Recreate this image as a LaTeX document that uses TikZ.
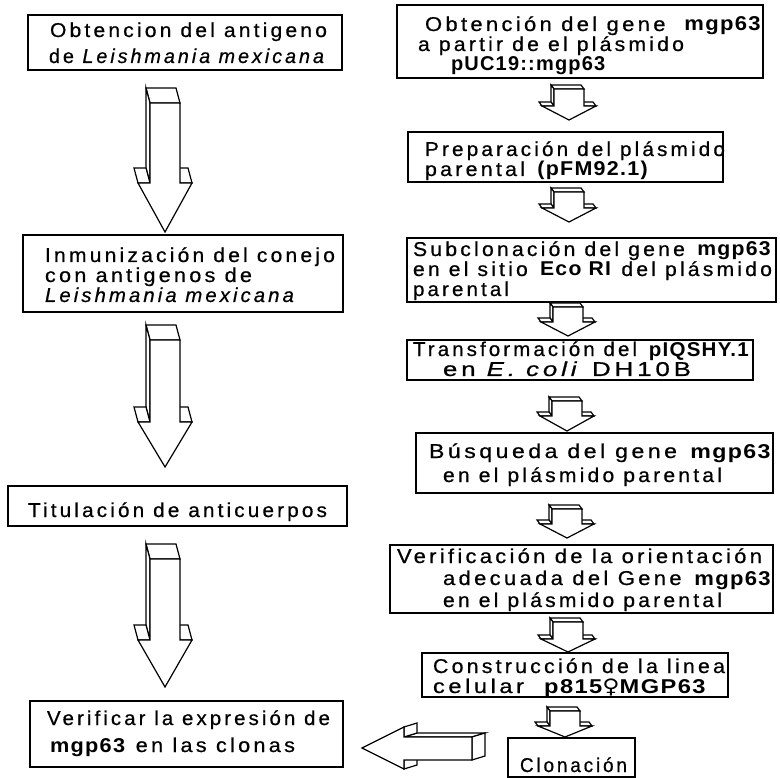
\documentclass[tikz,border=0pt]{standalone}
\usepackage{graphicx}
\usepackage{fontspec}
\setmainfont{Liberation Sans}[LetterSpace=15,
  UprightFeatures={FakeBold=0.6},
  ItalicFeatures={FakeBold=0.6},
  BoldFeatures={LetterSpace=6}]
\newfontfamily\symfont{DejaVu Sans Bold}
\newcommand\fs{\fontsize{20}{20}\selectfont}
\newsavebox\fitbox
% set text #2 scaled horizontally to width #1 (pt)
\newcommand\fit[2]{\sbox\fitbox{#2}\pgfmathsetmacro\fitsx{(#1+2)/\the\wd\fitbox}\scalebox{\fitsx}[1]{\usebox\fitbox}}
\tikzset{
  box/.style={draw, line width=1.4pt, inner sep=0pt, outer sep=0pt, anchor=north west},
  txt/.style={inner sep=0pt, outer sep=0pt, anchor=base west, font=\fs},
  blk/.style={draw, line width=1.2pt, fill=white, line join=miter},
}
% box: name, x1, y1, x2, y2
\newcommand\bx[5]{\node[box, minimum width={#4-#2}, minimum height={#5-#3}] (#1) at (#2,#3) {};}
% 3D block arrow pointing down: cx, front top, shoulder, tip, half shaft, half head, depth left, depth up
\newcommand\darr[8]{%
  \filldraw[blk] ({#1-#5},#2) -- ({#1-#5-#7},{#2-#8}) -- ({#1+#5-#7},{#2-#8}) -- ({#1+#5},#2) -- cycle;
  \filldraw[blk] ({#1-#5},#2) -- ({#1-#5-#7},{#2-#8}) -- ({#1-#5-#7},{#3-#8}) -- ({#1-#5},#3) -- cycle;
  \filldraw[blk] ({#1-#6},#3) -- ({#1-#6-#7},{#3-#8}) -- ({#1-#5-#7},{#3-#8}) -- ({#1-#5},#3) -- cycle;
  \filldraw[blk] ({#1+#5},#3) -- ({#1+#5-#7},{#3-#8}) -- ({#1+#6-#7},{#3-#8}) -- ({#1+#6},#3) -- cycle;
  \filldraw[blk] ({#1-#5},#2) -- ({#1+#5},#2) -- ({#1+#5},#3) -- ({#1+#6},#3) -- (#1,#4)
     -- ({#1-#6},#3) -- ({#1-#5},#3) -- cycle;
}
\begin{document}
\begin{tikzpicture}[x=1pt,y=-1pt]
\useasboundingbox[fill=white] (0,0) rectangle (780,778);

% ---------- left column ----------
\bx{l1}{28}{15}{342}{70}
\node[txt] (l1a) at (50,37) {\fit{275}{Obtencion del antigeno}};
\node[txt] (l1b) at (49,63) {\fit{276}{de \textit{Leishmania mexicana}}};

\bx{l2}{23}{235}{343}{312}
\node[txt] (l2a) at (45,262) {\fit{288}{Inmunización del conejo}};
\node[txt] (l2b) at (45,282) {\fit{205}{con antigenos de}};
\node[txt] (l2c) at (45,302) {\fit{250}{\textit{Leishmania mexicana}}};

\bx{l3}{8}{486}{347}{526}
\node[txt] (l3a) at (28,517) {\fit{297}{Titulación de anticuerpos}};

\bx{l4}{30}{701}{343}{767}
\node[txt] (l4a) at (47,725) {\fit{281}{Verificar la expresión de}};
\node[txt] (l4b) at (50,752) {\fit{243}{\textbf{mgp63} en las clonas}};

\darr{165}{103}{183}{232}{15}{27}{4}{15}
\darr{165}{340}{422}{467}{15}{27}{4}{15}
\darr{165}{559}{640}{687}{15}{27}{4}{15}

% ---------- right column ----------
\bx{r1}{397}{5}{763}{78}
\node[txt] (r1a) at (425,31) {\fit{335}{Obtención del gene \ \textbf{mgp63}}};
\node[txt] (r1b) at (418,51) {\fit{264}{a partir de el plásmido}};
\node[txt] (r1c) at (451,71) {\textbf{pUC19::mgp63}};

\bx{r2}{408}{132}{723}{182}
\node[txt] (r2a) at (425,156) {\fit{298}{Preparación del plásmido}};
\node[txt] (r2b) at (425,176) {\fit{222}{parental \textbf{(pFM92.1)}}};

\bx{r3}{407}{238}{776}{302}
\node[txt] (r3a) at (413,256) {\fit{357}{Subclonación del gene \textbf{mgp63}}};
\node[txt] (r3b) at (413,276) {\fit{357}{en el sitio \textbf{Eco RI} del plásmido}};
\node[txt] (r3c) at (413,296) {\fit{94}{parental}};

\bx{r4}{407}{340}{753}{380}
\node[txt] (r4a) at (413,356) {\fit{335}{Transformación del \textbf{pIQSHY.1}}};
\node[txt] (r4b) at (443,376) {\fit{246}{en \textit{E. coli} DH10B}};

\bx{r5}{416}{433}{773}{493}
\node[txt] (r5a) at (429,458) {\fit{341}{Búsqueda del gene \textbf{mgp63}}};
\node[txt] (r5b) at (443,482) {\fit{277}{en el plásmido parental}};

\bx{r6}{390}{545}{773}{613}
\node[txt] (r6a) at (397,563) {\fit{363}{Verificación de la orientación}};
\node[txt] (r6b) at (443,585) {\fit{327}{adecuada del Gene \textbf{mgp63}}};
\node[txt] (r6c) at (443,607) {\fit{277}{en el plásmido parental}};

\bx{r7}{422}{653}{728}{697}
\node[txt] (r7a) at (433,673) {\fit{290}{Construcción de la linea}};
\node[txt] (r7b) at (433,693) {\fit{272}{celular \ \textbf{p815{\symfont ♀}MGP63}}};

\bx{r8}{508}{738}{635}{777}
\node[txt] (r8a) at (520,772) {\fit{105}{Clonación}};

\darr{569}{89}{106}{120}{15}{27}{3}{4}
\darr{569}{192}{208}{222}{15}{27}{3}{4}
\darr{568}{307}{322}{336}{15}{27}{3}{4}
\darr{567}{401}{416}{431}{15}{27}{3}{4}
\darr{567}{509}{524}{538}{15}{27}{3}{4}
\darr{568}{622}{639}{652}{15}{27}{3}{4}
\darr{565}{711}{726}{737}{15}{27}{3}{4}

% ---------- horizontal arrow to the left ----------
\filldraw[blk] (404,737) -- (417,733) -- (485,733) -- (472,737) -- cycle;
\filldraw[blk] (472,737) -- (485,733) -- (485,756) -- (472,760) -- cycle;
\filldraw[blk] (404,727) -- (417,723) -- (417,733) -- (404,737) -- cycle;
\filldraw[blk] (404,760) -- (417,756) -- (417,765) -- (404,769) -- cycle;
\filldraw[blk] (362,748) -- (404,727) -- (404,737) -- (472,737) -- (472,760) -- (404,760) -- (404,769) -- cycle;
\end{tikzpicture}
\end{document}
